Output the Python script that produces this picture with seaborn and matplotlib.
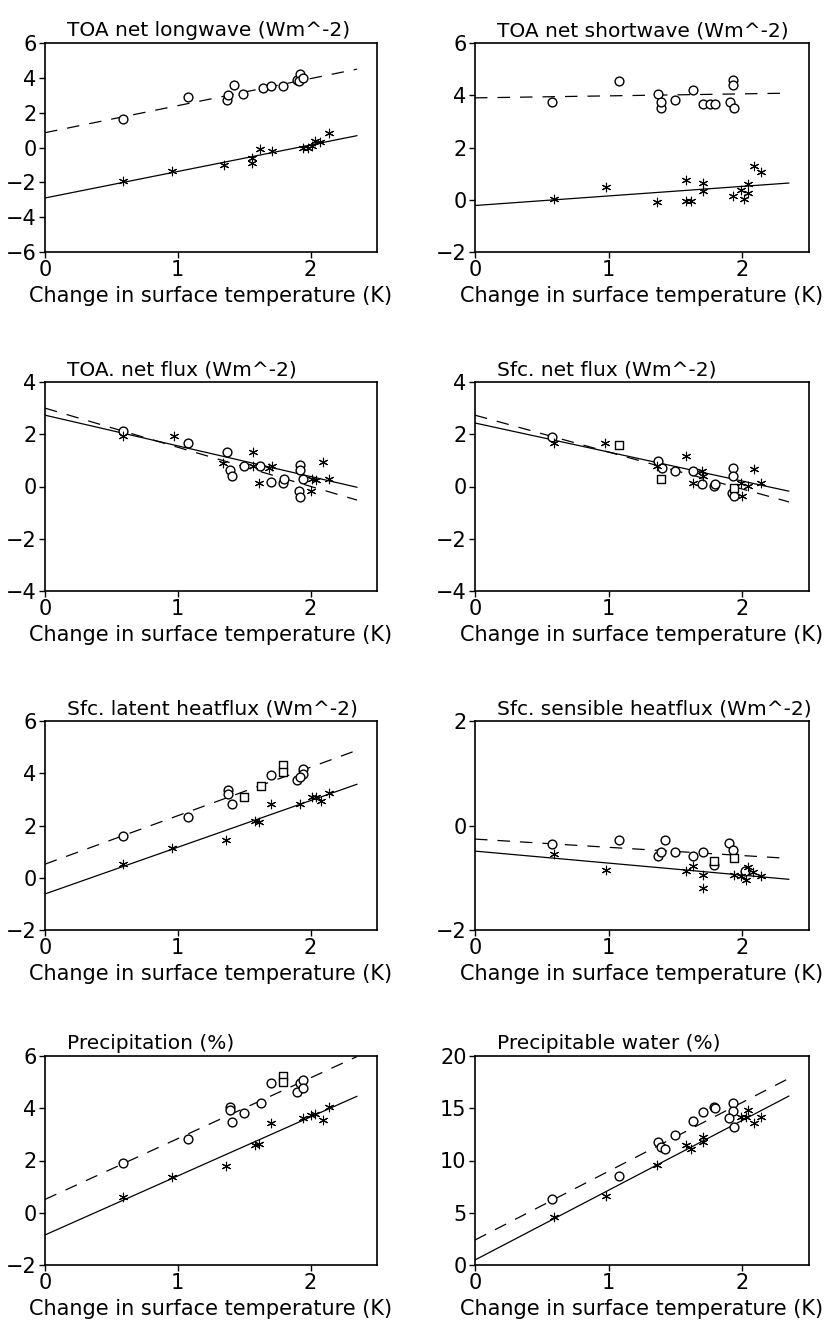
import numpy as np
import pandas as pd
import matplotlib
matplotlib.use("Agg")
import matplotlib.pyplot as plt
import seaborn as sns

# panel titles and axis settings
titles = ["TOA net longwave (Wm^-2)", "TOA net shortwave (Wm^-2)",
          "TOA. net flux (Wm^-2)", "Sfc. net flux (Wm^-2)",
          "Sfc. latent heatflux (Wm^-2)", "Sfc. sensible heatflux (Wm^-2)",
          "Precipitation (%)", "Precipitable water (%)"]
ylims = [(-6, 6), (-2, 6), (-4, 4), (-4, 4), (-2, 6), (-2, 2), (-2, 6), (0, 20)]
ysteps = [2, 2, 2, 2, 2, 2, 2, 5]
xlabel = "Change in surface temperature (K)"

# fit lines: values at x = 0 and x = 2.35
fit_x = [0.0, 2.35]

# TOA net longwave
lw_circ_x = [0.59, 1.08, 1.42, 1.37, 1.38, 1.49, 1.64, 1.70, 1.79, 1.90, 1.92, 1.91, 1.94]
lw_circ_y = [1.64, 2.88, 3.60, 2.75, 3.00, 3.05, 3.40, 3.55, 3.55, 3.90, 4.20, 3.80, 4.00]
lw_sq_x, lw_sq_y = [], []
lw_star_x = [0.59, 0.96, 1.35, 1.56, 1.56, 1.62, 1.71, 1.94, 2.01, 2.03, 2.07, 2.14, 1.98]
lw_star_y = [-1.90, -1.37, -0.99, -0.60, -0.90, -0.10, -0.20, -0.03, 0.07, 0.35, 0.30, 0.83, 0.00]
lw_dash = [0.85, 4.50]
lw_solid = [-2.90, 0.68]

# TOA net shortwave
sw_circ_x = [0.58, 1.08, 1.37, 1.39, 1.39, 1.50, 1.63, 1.71, 1.76, 1.80, 1.91, 1.94, 1.93, 1.93]
sw_circ_y = [3.76, 4.55, 4.06, 3.50, 3.76, 3.80, 4.20, 3.66, 3.66, 3.66, 3.76, 3.50, 4.57, 4.40]
sw_sq_x, sw_sq_y = [], []
sw_star_x = [0.59, 0.98, 1.36, 1.58, 1.58, 1.62, 1.71, 1.71, 1.93, 1.99, 2.01, 2.04, 2.04, 2.09, 2.14]
sw_star_y = [0.04, 0.50, -0.09, 0.74, -0.04, -0.04, 0.66, 0.32, 0.15, 0.38, 0.03, 0.26, 0.60, 1.28, 1.07]
sw_dash = [3.90, 4.08]
sw_solid = [-0.22, 0.64]

# TOA net flux
nf_circ_x = [0.59, 1.08, 1.37, 1.39, 1.41, 1.50, 1.62, 1.70, 1.79, 1.80, 1.92, 1.92, 1.91, 1.92, 1.94]
nf_circ_y = [2.14, 1.67, 1.31, 0.62, 0.42, 0.78, 0.78, 0.17, 0.14, 0.27, 0.82, 0.65, -0.18, -0.40, 0.27]
nf_sq_x, nf_sq_y = [], []
nf_star_x = [0.59, 0.97, 1.34, 1.57, 1.57, 1.61, 1.71, 1.69, 2.00, 2.01, 2.04, 2.09, 2.14]
nf_star_y = [1.92, 1.92, 0.90, 1.31, 0.78, 0.14, 0.80, 0.71, -0.18, 0.27, 0.24, 0.93, 0.27]
nf_dash = [3.00, -0.52]
nf_solid = [2.73, -0.03]

# Sfc net flux
sf_circ_x = [0.58, 1.37, 1.40, 1.50, 1.63, 1.70, 1.79, 1.80, 1.93, 1.93, 1.92, 1.94]
sf_circ_y = [1.90, 0.99, 0.71, 0.59, 0.59, 0.08, 0.01, 0.08, 0.71, 0.39, -0.24, -0.37]
sf_sq_x = [1.08, 1.39, 1.94]
sf_sq_y = [1.57, 0.29, -0.05]
sf_star_x = [0.59, 0.97, 1.36, 1.58, 1.63, 1.70, 1.71, 1.99, 2.00, 2.04, 2.09, 2.14]
sf_star_y = [1.67, 1.67, 0.78, 1.18, 0.14, 0.59, 0.39, 0.14, -0.37, 0.01, 0.68, 0.14]
sf_dash = [2.73, -0.59]
sf_solid = [2.43, -0.18]

# Sfc latent heat flux
lh_circ_x = [0.59, 1.08, 1.38, 1.38, 1.41, 1.70, 1.90, 1.94, 1.94, 1.92]
lh_circ_y = [1.59, 2.33, 3.35, 3.20, 2.82, 3.95, 3.73, 4.18, 3.99, 3.86]
lh_sq_x = [1.50, 1.63, 1.79, 1.79]
lh_sq_y = [3.10, 3.50, 4.30, 4.03]
lh_star_x = [0.59, 0.96, 1.36, 1.58, 1.61, 1.70, 1.92, 2.01, 2.04, 2.08, 2.14]
lh_star_y = [0.52, 1.12, 1.44, 2.18, 2.14, 2.84, 2.84, 3.10, 3.10, 2.94, 3.25]
lh_dash = [0.52, 4.88]
lh_solid = [-0.62, 3.58]

# Sfc sensible heat flux
sh_circ_x = [0.58, 1.08, 1.37, 1.39, 1.42, 1.50, 1.63, 1.71, 1.79, 1.90, 1.93, 2.02]
sh_circ_y = [-0.36, -0.28, -0.58, -0.50, -0.27, -0.50, -0.59, -0.50, -0.76, -0.33, -0.47, -0.87]
sh_sq_x = [1.79, 1.94]
sh_sq_y = [-0.68, -0.63]
sh_star_x = [0.59, 0.98, 1.58, 1.63, 1.71, 1.71, 1.94, 2.03, 2.04, 2.08, 2.14, 1.99]
sh_star_y = [-0.55, -0.85, -0.87, -0.78, -0.95, -1.19, -0.95, -1.04, -0.79, -0.89, -0.97, -0.96]
sh_dash = [-0.26, -0.63]
sh_solid = [-0.49, -1.03]

# Precipitation
pr_circ_x = [0.59, 1.08, 1.39, 1.39, 1.41, 1.50, 1.63, 1.70, 1.90, 1.92, 1.94, 1.94]
pr_circ_y = [1.91, 2.84, 4.06, 3.95, 3.48, 3.80, 4.21, 4.95, 4.63, 4.97, 5.10, 4.76]
pr_sq_x = [1.79, 1.79]
pr_sq_y = [5.23, 5.00]
pr_star_x = [0.59, 0.96, 1.36, 1.58, 1.61, 1.70, 1.94, 2.00, 2.03, 2.09, 2.14]
pr_star_y = [0.59, 1.35, 1.79, 2.59, 2.65, 3.42, 3.61, 3.74, 3.78, 3.55, 4.03]
pr_dash = [0.51, 5.98]
pr_solid = [-0.85, 4.46]

# Precipitable water
pw_circ_x = [0.58, 1.08, 1.37, 1.39, 1.42, 1.50, 1.63, 1.71, 1.79, 1.80, 1.93, 1.93, 1.90, 1.94]
pw_circ_y = [6.28, 8.52, 11.80, 11.32, 11.07, 12.44, 13.81, 14.60, 15.15, 14.99, 15.47, 14.77, 14.10, 13.24]
pw_sq_x, pw_sq_y = [], []
pw_star_x = [0.59, 0.98, 1.36, 1.58, 1.62, 1.71, 1.71, 1.99, 2.03, 2.04, 2.09, 2.14]
pw_star_y = [4.63, 6.60, 9.57, 11.48, 11.07, 11.80, 12.28, 14.13, 14.20, 14.83, 13.62, 14.20]
pw_dash = [2.39, 17.86]
pw_solid = [0.48, 16.17]

panels = [
    (lw_circ_x, lw_circ_y, lw_sq_x, lw_sq_y, lw_star_x, lw_star_y, lw_dash, lw_solid),
    (sw_circ_x, sw_circ_y, sw_sq_x, sw_sq_y, sw_star_x, sw_star_y, sw_dash, sw_solid),
    (nf_circ_x, nf_circ_y, nf_sq_x, nf_sq_y, nf_star_x, nf_star_y, nf_dash, nf_solid),
    (sf_circ_x, sf_circ_y, sf_sq_x, sf_sq_y, sf_star_x, sf_star_y, sf_dash, sf_solid),
    (lh_circ_x, lh_circ_y, lh_sq_x, lh_sq_y, lh_star_x, lh_star_y, lh_dash, lh_solid),
    (sh_circ_x, sh_circ_y, sh_sq_x, sh_sq_y, sh_star_x, sh_star_y, sh_dash, sh_solid),
    (pr_circ_x, pr_circ_y, pr_sq_x, pr_sq_y, pr_star_x, pr_star_y, pr_dash, pr_solid),
    (pw_circ_x, pw_circ_y, pw_sq_x, pw_sq_y, pw_star_x, pw_star_y, pw_dash, pw_solid),
]

sns.set_style("ticks")
plt.rcParams['font.family'] = ['DejaVu Sans']
plt.rcParams['text.color'] = 'black'
plt.rcParams['axes.labelcolor'] = 'black'
plt.rcParams['xtick.color'] = 'black'
plt.rcParams['ytick.color'] = 'black'
plt.rcParams['axes.edgecolor'] = 'black'

fig = plt.figure(figsize=(8.39, 13.28), dpi=100)
W, H = 839.0, 1328.0
lefts = [45, 475]
widths = [332, 334]
tops = [43, 382, 721, 1056]
ax_h = 209

for i, (cx, cy, qx, qy, stx, sty, dash, solid) in enumerate(panels):
    r, c = divmod(i, 2)
    ax = fig.add_axes([lefts[c] / W, 1 - (tops[r] + ax_h) / H, widths[c] / W, ax_h / H])

    sns.lineplot(x=fit_x, y=dash, ax=ax, color="black", linewidth=0.9,
                 dashes=False, linestyle=(0, (10, 8)))
    sns.lineplot(x=fit_x, y=solid, ax=ax, color="black", linewidth=0.9)
    sns.scatterplot(x=cx, y=cy, ax=ax, marker="o", s=40, facecolor="white",
                    edgecolor="black", linewidth=1.0, zorder=3)
    if len(qx):
        sns.scatterplot(x=qx, y=qy, ax=ax, marker="s", s=30, facecolor="white",
                        edgecolor="black", linewidth=1.0, zorder=3)
    sns.scatterplot(x=stx, y=sty, ax=ax, marker=(6, 2, 0), s=38, color="black",
                    linewidth=0.8, zorder=3)

    ax.set_xlim(0, 2.5)
    ax.set_ylim(*ylims[i])
    ax.set_xticks([0, 1, 2])
    ax.set_yticks(np.arange(ylims[i][0], ylims[i][1] + 0.1, ysteps[i]))
    ax.tick_params(labelsize=15, length=4, width=1, direction="out", pad=2)
    for sp in ax.spines.values():
        sp.set_visible(True)
        sp.set_linewidth(1.2)
    # titles sit left-aligned a little inside the box
    ax.set_title(titles[i], fontsize=14.5, pad=5, loc="left", x=22 / widths[c])
    ax.set_xlabel(xlabel, fontsize=15, labelpad=4)
    ax.set_ylabel("")

fig.savefig("out.png", dpi=100, facecolor="white")
